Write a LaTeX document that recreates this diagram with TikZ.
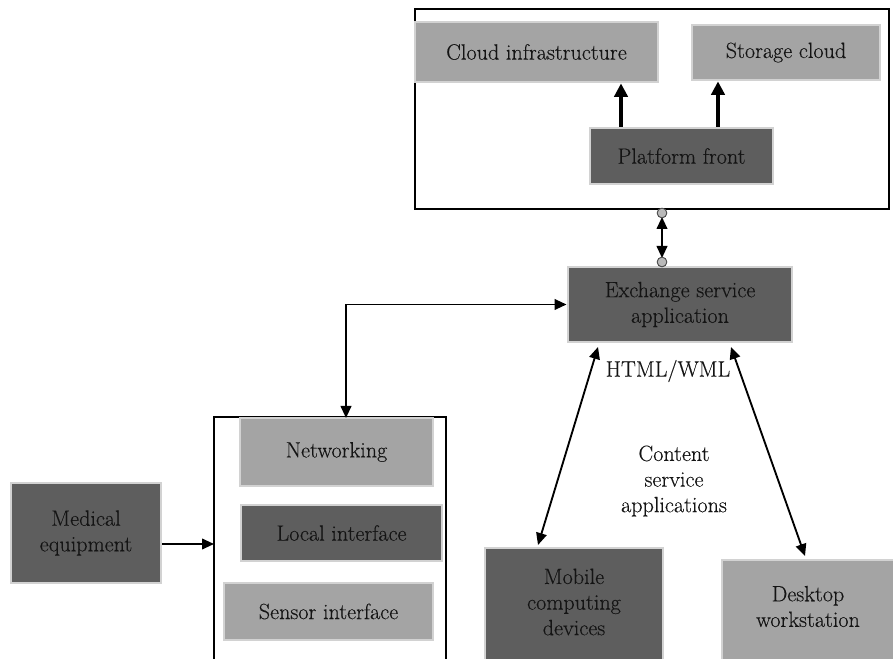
\documentclass[tikz,border=0pt]{standalone}
\usepackage{fontspec}
\setmainfont{Latin Modern Roman}[FakeBold=0.25]
\usetikzlibrary{arrows.meta}
\definecolor{boxdark}{HTML}{5E5E5E}
\definecolor{boxlight}{HTML}{A4A4A4}
\definecolor{boxedge}{HTML}{D2D2D2}
\definecolor{ink}{HTML}{141414}
\begin{document}
\begin{tikzpicture}[x=0.75pt,y=-0.75pt,
  box/.style 2 args={draw=boxedge,line width=2.2pt,inner sep=0pt,align=center,
    text=ink,font=\fontsize{16.6}{19.2}\selectfont,
    minimum width=#1*0.75pt,minimum height=#2*0.75pt},
  darkbox/.style 2 args={box={#1}{#2},fill=boxdark},
  lightbox/.style 2 args={box={#1}{#2},fill=boxlight},
  frame/.style={draw=black,line width=2.2pt},
  thickarrow/.style={line width=2.3pt,-{Triangle[width=10pt,length=10pt]}},
  link/.style={line width=1.4pt,{Triangle[width=8pt,length=9pt]}-{Triangle[width=8pt,length=9pt]}},
  oneway/.style={line width=1.4pt,-{Triangle[width=8pt,length=9pt]}},
  label/.style={text=ink,align=center,font=\fontsize{16.6}{19.2}\selectfont,inner sep=0pt},
  joint/.style={fill=gray!55,draw=black!70,line width=0.6pt}]
\useasboundingbox (0,0) rectangle (893,659);

% cloud side
\draw[frame] (415,9) rectangle (889,209);
\node[lightbox={243}{60}] (infra) at (536.5,52) {Cloud infrastructure};
\node[lightbox={188}{55}] (storage) at (786,52.5) {Storage cloud};
\node[darkbox={183}{56}] (front) at (681.5,156) {Platform front};
\draw[thickarrow] (front.north -| 621,0) -- (infra.south -| 621,0);
\draw[thickarrow] (front.north -| 718,0) -- (storage.south -| 718,0);

% exchange service
\node[darkbox={224}{75}] (exch) at (680,304.5) {Exchange service\\application};
\coordinate (cloudlow) at (662,213);
\coordinate (exchhigh) at (662,262);
\draw[link] (662,217) -- (662,258);
\fill[joint] (cloudlow) circle (3.6pt);
\fill[joint] (exchhigh) circle (3.6pt);
\draw[joint] (cloudlow) circle (3.6pt);
\draw[joint] (exchhigh) circle (3.6pt);

\node[label] (html) at (668,371) {HTML/WML};
\node[label] (content) at (674,481) {Content\\service\\applications};

% client devices (both boxes run past the lower edge)
\node[darkbox={178}{122}] (mobile) at (574,609) {};
\node[label] (mobiletext) at (574,602) {Mobile\\computing\\devices};
\node[lightbox={172}{110}] (desk) at (808,615) {};
\node[label] (desktext) at (808,606.5) {Desktop\\workstation};
\coordinate (exmob) at (598,347);
\coordinate (mobtop) at (538,545);
\coordinate (exdesk) at (731,347);
\coordinate (desktop) at (805,556);
\draw[link] (exmob) -- (mobtop);
\draw[link] (exdesk) -- (desktop);

% local gateway
\draw[frame] (214,662) -- (214,417) -- (446,417) -- (446,662);
\node[lightbox={193}{68}] (net) at (336.5,452) {Networking};
\node[darkbox={201}{56}] (local) at (341.5,533) {Local interface};
\node[lightbox={209}{57}] (sensor) at (328.5,611.5) {Sensor interface};
\coordinate (nettop) at (346,418);
\coordinate (gatein) at (214,544);
\draw[link] (exch.west) -| (nettop);

\node[darkbox={150}{100}] (med) at (86,533) {Medical\\equipment};
\draw[oneway] (med.east |- gatein) -- (gatein);
\end{tikzpicture}
\end{document}
